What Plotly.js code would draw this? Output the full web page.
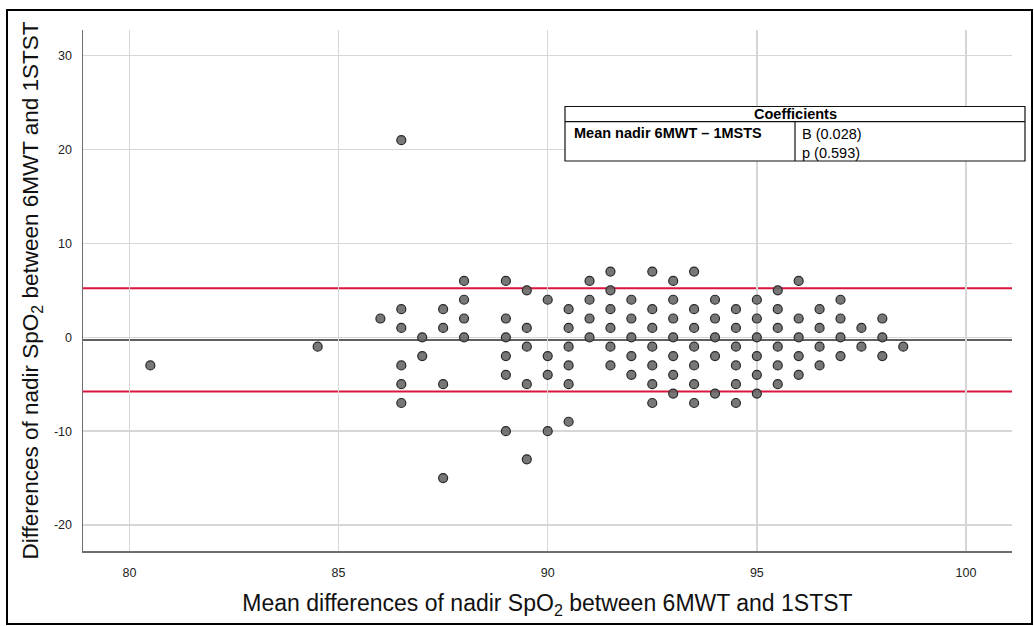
<!DOCTYPE html>
<html>
<head>
<meta charset="utf-8">
<script src="https://cdn.plot.ly/plotly-3.0.1.min.js"></script>
<style>
  html, body { margin: 0; padding: 0; background: #fff; }
  #chart { width: 1034px; height: 626px; }
</style>
</head>
<body>
<div id="chart"></div>
<script>
// Mean of nadir SpO2 (x) and difference (y), one entry per visible point
const meanX = [
  80.5,
  84.5,
  86,
  86.5, 86.5, 86.5, 86.5, 86.5, 86.5,
  87, 87,
  87.5, 87.5, 87.5, 87.5,
  88, 88, 88, 88,
  89, 89, 89, 89, 89, 89,
  89.5, 89.5, 89.5, 89.5, 89.5,
  90, 90, 90, 90,
  90.5, 90.5, 90.5, 90.5, 90.5, 90.5,
  91, 91, 91, 91,
  91.5, 91.5, 91.5, 91.5, 91.5, 91.5,
  92, 92, 92, 92, 92,
  92.5, 92.5, 92.5, 92.5, 92.5, 92.5, 92.5,
  93, 93, 93, 93, 93, 93, 93,
  93.5, 93.5, 93.5, 93.5, 93.5, 93.5, 93.5,
  94, 94, 94, 94, 94,
  94.5, 94.5, 94.5, 94.5, 94.5, 94.5,
  95, 95, 95, 95, 95, 95,
  95.5, 95.5, 95.5, 95.5, 95.5, 95.5,
  96, 96, 96, 96, 96,
  96.5, 96.5, 96.5, 96.5,
  97, 97, 97, 97,
  97.5, 97.5,
  98, 98, 98,
  98.5
];
const diffY = [
  -3,
  -1,
  2,
  21, 3, 1, -3, -5, -7,
  0, -2,
  3, 1, -5, -15,
  6, 4, 2, 0,
  6, 2, 0, -2, -4, -10,
  5, 1, -1, -5, -13,
  4, -2, -4, -10,
  3, 1, -1, -3, -5, -9,
  6, 4, 2, 0,
  7, 5, 3, 1, -1, -3,
  4, 2, 0, -2, -4,
  7, 3, 1, -1, -3, -5, -7,
  6, 4, 2, 0, -2, -4, -6,
  7, 3, 1, -1, -3, -5, -7,
  4, 2, 0, -2, -6,
  3, 1, -1, -3, -5, -7,
  4, 2, 0, -2, -4, -6,
  5, 3, 1, -1, -3, -5,
  6, 2, 0, -2, -4,
  3, 1, -1, -3,
  4, 2, 0, -2,
  1, -1,
  2, 0, -2,
  -1
];

// Bland-Altman reference lines
const meanDiff = -0.28;
const upperLoA = 5.22;
const lowerLoA = -5.78;

// Axis ticks
const xTicks = [80, 85, 90, 95, 100];
const yTicks = [-20, -10, 0, 10, 20, 30];

// Coefficient table text
const tableHeader = "Coefficients";
const tableRowLabel = "Mean nadir 6MWT \u2013 1MSTS";
const tableValues = ["B (0.028)", "p (0.593)"];

const W = 1034, H = 626;
const M = {l: 83, r: 22, t: 30, b: 75};
const PW = W - M.l - M.r, PH = H - M.t - M.b;
const px = v => (v - M.l) / PW;          // pixel x -> paper
const py = v => (H - M.b - v) / PH;      // pixel y -> paper

const FONT = 'Liberation Sans, Arial, sans-serif';

const scatter = {
  type: 'scatter', mode: 'markers',
  x: meanX, y: diffY,
  marker: {size: 9, color: 'rgba(100,100,100,0.88)', line: {color: 'rgb(40,40,40)', width: 1.2}},
  hoverinfo: 'x+y', showlegend: false
};

const hline = (y, color, width) => ({
  type: 'line', xref: 'paper', yref: 'y', x0: 0, x1: 1, y0: y, y1: y,
  line: {color: color, width: width}, layer: 'below'
});

const lineColor = '#111';
const shapes = [
  hline(meanDiff, 'rgb(95,95,95)', 2),
  hline(upperLoA, 'rgb(218,22,62)', 2),
  hline(lowerLoA, 'rgb(218,22,62)', 2),
  // outer frame
  {type: 'rect', xref: 'paper', yref: 'paper', x0: px(7), x1: px(1032), y0: py(624), y1: py(10),
   line: {color: '#000', width: 2}, fillcolor: 'rgba(0,0,0,0)'},
  // coefficient table
  {type: 'rect', xref: 'paper', yref: 'paper', x0: px(565), x1: px(1025), y0: py(161), y1: py(106.5),
   line: {color: lineColor, width: 1.2}, fillcolor: '#fff', layer: 'above'},
  {type: 'line', xref: 'paper', yref: 'paper', x0: px(565), x1: px(1025), y0: py(121.7), y1: py(121.7),
   line: {color: lineColor, width: 1.2}},
  {type: 'line', xref: 'paper', yref: 'paper', x0: px(795), x1: px(795), y0: py(121.7), y1: py(161),
   line: {color: lineColor, width: 1.2}}
];

const tf = {family: FONT, size: 14.5, color: '#000'};
const annotations = [
  {xref: 'paper', yref: 'paper', x: px(795), y: py(114.2), text: '<b>' + tableHeader + '</b>',
   showarrow: false, xanchor: 'center', yanchor: 'middle', font: tf},
  {xref: 'paper', yref: 'paper', x: px(572), y: py(133), text: '<b>' + tableRowLabel + '</b>',
   showarrow: false, xanchor: 'left', yanchor: 'middle', font: tf},
  {xref: 'paper', yref: 'paper', x: px(800), y: py(133.5), text: tableValues[0],
   showarrow: false, xanchor: 'left', yanchor: 'middle', font: tf},
  {xref: 'paper', yref: 'paper', x: px(800), y: py(152.5), text: tableValues[1],
   showarrow: false, xanchor: 'left', yanchor: 'middle', font: tf}
];

const layout = {
  width: W, height: H,
  margin: M,
  paper_bgcolor: '#fff', plot_bgcolor: '#fff',
  showlegend: false,
  font: {family: FONT, color: '#222'},
  xaxis: {
    range: [78.89, 101.1],
    tickvals: xTicks, ticktext: xTicks.map(String),
    showgrid: true, gridcolor: '#d6d6d6', gridwidth: 1.5,
    zeroline: false,
    showline: true, linecolor: '#6e6e6e', linewidth: 1.5,
    ticks: '', ticklabelstandoff: 9,
    tickfont: {size: 12.5, color: '#222', family: FONT},
    title: {text: 'Mean differences of nadir SpO<sub>2</sub> between 6MWT and 1STST',
            font: {size: 23, color: '#111', family: FONT}, standoff: 16}
  },
  yaxis: {
    range: [-22.77, 32.74],
    tickvals: yTicks, ticktext: yTicks.map(String),
    showgrid: true, gridcolor: '#d6d6d6', gridwidth: 1.5,
    zeroline: false,
    showline: true, linecolor: '#6e6e6e', linewidth: 1.5,
    ticks: '', ticklabelstandoff: 7,
    tickfont: {size: 12.5, color: '#222', family: FONT},
    title: {text: 'Differences of nadir SpO<sub>2</sub> between 6MWT and 1STST',
            font: {size: 22.5, color: '#111', family: FONT}, standoff: 9}
  },
  shapes: shapes,
  annotations: annotations
};

Plotly.newPlot('chart', [scatter], layout, {displayModeBar: false, staticPlot: true});
</script>
</body>
</html>
